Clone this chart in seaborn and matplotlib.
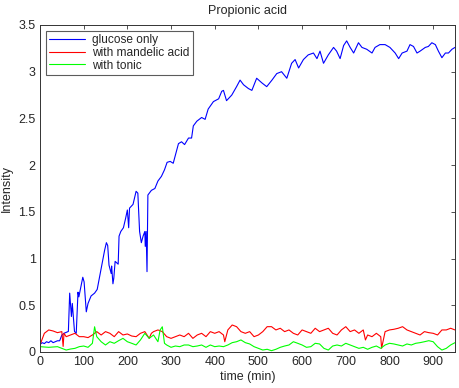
import numpy as np
import pandas as pd
import seaborn as sns
import matplotlib.pyplot as plt
import matplotlib.ticker as ticker

# glucose only (blue), irregular sampling
t_glucose = [0, 5, 10, 15, 20, 25, 30, 35, 40, 45, 50, 55, 60, 65, 68, 72, 74, 79, 83, 87,
             89, 98, 101, 106, 110, 117, 125, 131, 137, 142, 148, 152, 155, 158, 163, 164, 167, 169, 172, 179,
             181, 185, 191, 196, 200, 203, 205, 213, 220, 224, 228, 232, 236, 240, 241, 243, 245, 247, 255, 263,
             270, 278, 285, 291, 298, 305, 309, 317, 324, 331, 340, 347, 351, 359, 370, 378, 385, 397, 409, 416,
             420, 427, 439, 450, 458, 466, 477, 485, 496, 508, 519, 531, 542, 553, 565, 576, 584, 592, 603, 614,
             626, 634, 641, 649, 660, 672, 679, 687, 695, 702, 710, 718, 729, 737, 748, 760, 767, 778, 790, 801,
             813, 821, 829, 840, 847, 855, 863, 870, 882, 889, 897, 905, 912, 920, 928, 935, 943, 950]
v_glucose = [0.08, 0.10, 0.09, 0.11, 0.10, 0.12, 0.10, 0.11, 0.12, 0.12, 0.18, 0.20, 0.21, 0.22, 0.63, 0.38, 0.52, 0.22, 0.20, 0.64,
             0.59, 0.80, 0.75, 0.43, 0.52, 0.60, 0.63, 0.67, 0.82, 0.95, 1.09, 1.17, 1.14, 0.93, 0.84, 0.92, 0.73, 0.79, 0.97, 0.94,
             1.24, 1.29, 1.33, 1.43, 1.52, 1.33, 1.54, 1.58, 1.72, 1.70, 1.29, 1.17, 1.24, 1.29, 1.13, 1.29, 0.86, 1.68, 1.73, 1.75,
             1.83, 1.88, 1.95, 2.03, 2.04, 2.02, 2.09, 2.23, 2.25, 2.22, 2.29, 2.29, 2.42, 2.47, 2.51, 2.49, 2.60, 2.68, 2.71, 2.79,
             2.80, 2.69, 2.75, 2.84, 2.91, 2.86, 2.82, 2.80, 2.93, 2.88, 2.84, 2.91, 2.98, 3.00, 2.93, 3.09, 3.13, 3.04, 3.13, 3.18,
             3.20, 3.14, 3.22, 3.09, 3.18, 3.26, 3.22, 3.14, 3.28, 3.33, 3.26, 3.20, 3.31, 3.26, 3.24, 3.20, 3.26, 3.29, 3.29, 3.26,
             3.20, 3.14, 3.20, 3.22, 3.29, 3.27, 3.20, 3.22, 3.26, 3.27, 3.31, 3.29, 3.22, 3.15, 3.20, 3.20, 3.24, 3.26]

# with mandelic acid (red)
t_mandelic = [0, 10, 20, 30, 40, 50, 53, 55, 60, 70, 80, 90, 100, 110, 120, 130, 140, 150, 160, 170,
              180, 190, 200, 210, 220, 230, 240, 250, 255, 260, 270, 280, 290, 300, 310, 320, 330, 340, 350, 360,
              370, 380, 390, 400, 410, 420, 423, 430, 440, 450, 460, 470, 480, 490, 500, 510, 520, 530, 540, 550,
              560, 570, 580, 590, 600, 610, 620, 630, 640, 650, 660, 670, 680, 690, 700, 710, 720, 730, 740, 745,
              750, 760, 770, 780, 782, 790, 800, 810, 820, 830, 840, 850, 860, 870, 880, 890, 900, 910, 920, 930,
              940, 950]
v_mandelic = [0.075, 0.20, 0.236, 0.225, 0.207, 0.218, 0.06, 0.20, 0.164, 0.182, 0.20, 0.164, 0.164, 0.154, 0.182, 0.218, 0.182, 0.218, 0.20, 0.164,
              0.218, 0.182, 0.193, 0.171, 0.164, 0.20, 0.218, 0.146, 0.20, 0.218, 0.236, 0.218, 0.164, 0.146, 0.164, 0.182, 0.164, 0.20, 0.146, 0.182,
              0.20, 0.164, 0.218, 0.20, 0.218, 0.182, 0.11, 0.236, 0.289, 0.271, 0.218, 0.20, 0.218, 0.164, 0.182, 0.218, 0.271, 0.271, 0.236, 0.254,
              0.218, 0.236, 0.20, 0.182, 0.236, 0.218, 0.20, 0.254, 0.218, 0.236, 0.254, 0.20, 0.182, 0.236, 0.271, 0.218, 0.236, 0.20, 0.236, 0.129,
              0.182, 0.164, 0.20, 0.164, 0.04, 0.218, 0.236, 0.243, 0.254, 0.271, 0.236, 0.218, 0.20, 0.182, 0.218, 0.207, 0.20, 0.182, 0.236, 0.236,
              0.254, 0.236]

# with tonic (green)
t_tonic = [0, 20, 40, 50, 60, 70, 80, 90, 100, 110, 120, 125, 130, 140, 150, 160, 170, 180, 190, 200,
           210, 220, 230, 240, 250, 260, 270, 275, 280, 285, 290, 300, 310, 320, 330, 340, 350, 360, 370, 380,
           390, 400, 410, 420, 430, 440, 450, 460, 470, 480, 490, 500, 510, 520, 530, 540, 550, 560, 570, 580,
           590, 600, 610, 620, 630, 640, 650, 660, 670, 680, 690, 700, 710, 720, 730, 740, 750, 760, 770, 780,
           790, 800, 810, 820, 830, 840, 850, 860, 870, 880, 890, 900, 910, 920, 930, 940, 950]
v_tonic = [0.057, 0.05, 0.057, 0.039, 0.021, 0.032, 0.039, 0.057, 0.064, 0.05, 0.093, 0.27, 0.164, 0.11, 0.075, 0.11, 0.093, 0.121, 0.146, 0.11,
           0.093, 0.075, 0.129, 0.20, 0.146, 0.182, 0.11, 0.236, 0.27, 0.093, 0.075, 0.05, 0.064, 0.057, 0.075, 0.075, 0.057, 0.064, 0.075, 0.05,
           0.075, 0.057, 0.064, 0.057, 0.075, 0.10, 0.11, 0.129, 0.10, 0.086, 0.057, 0.039, 0.021, 0.029, 0.014, 0.029, 0.05, 0.064, 0.075, 0.11,
           0.093, 0.075, 0.05, 0.057, 0.093, 0.086, 0.039, 0.021, 0.064, 0.075, 0.064, 0.093, 0.075, 0.057, 0.039, 0.05, 0.029, 0.05, 0.064, 0.039,
           0.075, 0.093, 0.086, 0.075, 0.064, 0.086, 0.075, 0.093, 0.10, 0.11, 0.121, 0.11, 0.057, 0.021, 0.039, 0.075, 0.10]

x_ticks = [0, 100, 200, 300, 400, 500, 600, 700, 800, 900]
y_ticks = [0, 0.5, 1, 1.5, 2, 2.5, 3, 3.5]

sns.set_style("white")
plt.rcParams['font.family'] = ['Liberation Sans', 'DejaVu Sans']
plt.rcParams['font.size'] = 8.5

df_g = pd.DataFrame({"time": t_glucose, "Intensity": v_glucose})
df_m = pd.DataFrame({"time": t_mandelic, "Intensity": v_mandelic})
df_t = pd.DataFrame({"time": t_tonic, "Intensity": v_tonic})

fig = plt.figure(figsize=(4.59, 3.88), dpi=100)
ax = fig.add_axes([0.0871, 0.0928, 0.9042, 0.8428])

sns.lineplot(data=df_g, x="time", y="Intensity", color=(0, 0, 1), lw=0.8, label="glucose only", ax=ax)
sns.lineplot(data=df_m, x="time", y="Intensity", color=(1, 0, 0), lw=0.8, label="with mandelic acid", ax=ax)
sns.lineplot(data=df_t, x="time", y="Intensity", color=(0, 1, 0), lw=0.8, label="with tonic", ax=ax)

ax.set_xlim(0, 950)
ax.set_ylim(0, 3.5)
ax.set_xticks(x_ticks)
ax.set_yticks(y_ticks)
ax.yaxis.set_major_formatter(ticker.FormatStrFormatter('%g'))
ax.tick_params(axis='both', which='both', direction='in', top=True, right=True,
               length=3, width=0.6, color='#333333', labelsize=9, pad=3)
for s in ax.spines.values():
    s.set_color('#333333')
    s.set_linewidth(0.7)

ax.set_title("Propionic acid", fontsize=9, pad=8)
ax.set_xlabel("time (min)", fontsize=9, labelpad=2)
ax.set_ylabel("Intensity", fontsize=9, labelpad=4)

leg = ax.legend(loc='upper left', bbox_to_anchor=(0.014, 0.982), fontsize=8.6, fancybox=False,
                frameon=True, handlelength=3.0, borderpad=0.3, labelspacing=0.05, handletextpad=0.6,
                borderaxespad=0)
leg.get_frame().set_edgecolor('#333333')
leg.get_frame().set_linewidth(0.8)

plt.savefig("out.png", dpi=100)
